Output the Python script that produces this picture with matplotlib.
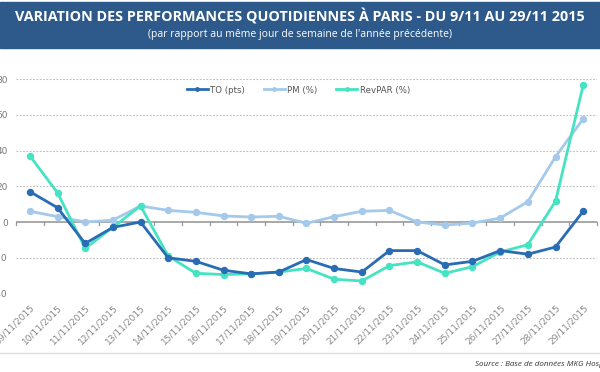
import numpy as np
import matplotlib.pyplot as plt
from matplotlib.lines import Line2D

# Data
dates = ['09/11/2015', '10/11/2015', '11/11/2015', '12/11/2015', '13/11/2015',
         '14/11/2015', '15/11/2015', '16/11/2015', '17/11/2015', '18/11/2015',
         '19/11/2015', '20/11/2015', '21/11/2015', '22/11/2015', '23/11/2015',
         '24/11/2015', '25/11/2015', '26/11/2015', '27/11/2015', '28/11/2015',
         '29/11/2015']
to_pts = [17, 8, -12, -3, 0, -20, -22, -27, -29, -28, -21, -26, -28, -16, -16,
          -24, -22, -16, -18, -14, 6]
pm_pct = [6, 3, 0, 1, 9, 6.5, 5.4, 3.4, 2.8, 3.2, -0.7, 3, 6, 6.5, 0, -1.7,
          -0.6, 2.2, 11.4, 36.5, 57.7]
revpar_pct = [37, 16.4, -14.7, -3, 9, -19, -28.7, -29.4, -29, -28, -26, -32,
              -33, -24.4, -22.3, -28.7, -25, -16.8, -12.7, 11.6, 76.5]
yticks = [-40, -20, 0, 20, 40, 60, 80]

c_to = '#2a6cb3'
c_pm = '#a4c9ea'
c_rev = '#44e3c2'
c_head = '#2d5a8b'

fig = plt.figure(figsize=(6, 3.72), dpi=100)

# header band
fig.patches.append(plt.Rectangle((0, 1 - 48 / 372), 1, 46 / 372, transform=fig.transFigure,
                                 color=c_head, zorder=0))
fig.text(0.5, 1 - 17 / 372, 'VARIATION DES PERFORMANCES QUOTIDIENNES À PARIS - DU 9/11 AU 29/11 2015',
         ha='center', va='center', color='white', fontsize=10.4, fontweight='bold',
         family='Open Sans')
fig.text(0.5, 1 - 35 / 372, "(par rapport au même jour de semaine de l'année précédente)",
         ha='center', va='center', color='white', fontsize=7.5, family='Open Sans')

ax = fig.add_axes([16 / 600, 0.211, 581 / 600, 0.5766])
x = np.arange(len(dates))
ax.plot(x, to_pts, color=c_to, lw=2, marker='o', ms=4.3, label='TO (pts)', zorder=3)
ax.plot(x, pm_pct, color=c_pm, lw=2, marker='o', ms=4.3, label='PM (%)', zorder=2)
ax.plot(x, revpar_pct, color=c_rev, lw=2, marker='o', ms=4.3, label='RevPAR (%)', zorder=2.5)

ax.set_xlim(-0.5, len(dates) - 0.5)
ax.set_ylim(-40, 80)
ax.set_yticks(yticks)
ax.set_yticklabels([str(v) for v in yticks], fontsize=6.5, color='#777777')
ax.tick_params(axis='y', length=0, pad=6)
for v in yticks:
    if v != 0:
        ax.axhline(v, color='#bbbbbb', lw=0.8, ls=(0, (1.5, 1.5)), zorder=0)
ax.axhline(0, color='#999999', lw=1.2, zorder=1)

# category axis: ticks between categories on the zero line, labels below
ax.set_xticks(x)
ax.set_xticklabels(dates, rotation=45, ha='right', va='top', fontsize=6.5,
                   color='#888888', rotation_mode='anchor')
ax.tick_params(axis='x', length=0, pad=7)
for b in np.arange(-0.5, len(dates), 1.0):
    ax.plot([b, b], [0, -1.6], color='#999999', lw=0.9, zorder=1, clip_on=False)

for s in ax.spines.values():
    s.set_visible(False)

handles = [Line2D([0], [0], color=c, lw=2, marker='o', ms=2.5) for c in (c_to, c_pm, c_rev)]
ax.legend(handles, ['TO (pts)', 'PM (%)', 'RevPAR (%)'], loc='center',
          bbox_to_anchor=(0.5 - 8 / 581, 1 - 11 / 214.5), ncol=3, frameon=False,
          fontsize=6.2, handlelength=2.4, handletextpad=0.3, columnspacing=2.2,
          labelcolor='#555555')

# bottom rule and source
fig.add_artist(Line2D([0, 1], [1 - 353 / 372] * 2, transform=fig.transFigure,
                      color='#dddddd', lw=1))
fig.text(475 / 600, 1 - 364 / 372, 'Source : Base de données MKG Hospitality',
         ha='left', va='center', fontsize=5.8, style='italic', color='#333333',
         family='Open Sans')

fig.savefig('out.png', dpi=100)
